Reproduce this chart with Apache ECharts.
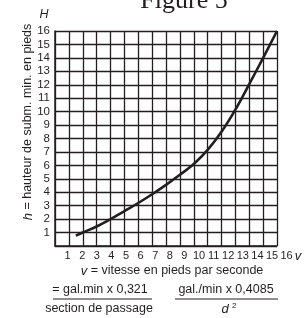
<!DOCTYPE html>
<html>
<head>
<meta charset="utf-8">
<script src="https://cdn.jsdelivr.net/npm/echarts@6/dist/echarts.min.js"></script>
<style>
html,body{margin:0;padding:0;background:#fff;}
#c{width:304px;height:318px;}
</style>
</head>
<body>
<div id="c"></div>
<script>
// Data
var velocity = [1.5, 2, 3, 4, 5, 6, 7, 8, 9, 10, 11, 12, 13, 14, 15, 16];
var height   = [0.77, 1.0, 1.45, 2.0, 2.6, 3.2, 3.85, 4.55, 5.3, 6.1, 7.15, 8.5, 10.15, 12.05, 14.0, 16.0];
var xTickLabels = ['1','2','3','4','5','6','7','8','9','10','11','12','13','14','15','16'];
var yTickLabels = ['1','2','3','4','5','6','7','8','9','10','11','12','13','14','15','16'];

var FONT = 'Liberation Sans';
var INK = '#231f20';

var chart = echarts.init(document.getElementById('c'), null, {renderer: 'canvas'});

var points = velocity.map(function (v, i) { return [v, height[i]]; });

var option = {
  animation: false,
  backgroundColor: '#fff',
  grid: [
    {left: 55, top: 31, width: 222, height: 215, show: false},
    // label-only grid (tick labels in the print drift wider than the grid)
    {left: 53, top: 31, width: 233.6, height: 215, show: false}
  ],
  xAxis: [
    {
      type: 'value', gridIndex: 0, min: 0, max: 16, interval: 1,
      axisLine: {show: true, lineStyle: {color: INK, width: 1.5}},
      axisTick: {show: false},
      axisLabel: {show: false},
      splitLine: {show: true, lineStyle: {color: INK, width: 1.3}}
    },
    {
      type: 'value', gridIndex: 1, min: 0, max: 16, interval: 1,
      axisLine: {show: false}, axisTick: {show: false},
      splitLine: {show: false},
      axisLabel: {
        show: true, color: INK, fontFamily: FONT, fontSize: 11, margin: 4,
        formatter: function (val) {
          var i = Math.round(val) - 1;
          return i >= 0 && i < xTickLabels.length ? xTickLabels[i] : '';
        }
      }
    }
  ],
  yAxis: [
    {
      type: 'value', gridIndex: 0, min: 0, max: 16, interval: 1,
      axisLine: {show: true, lineStyle: {color: INK, width: 1.5}},
      axisTick: {show: false},
      axisLabel: {
        show: true, color: INK, fontFamily: FONT, fontSize: 11.5, margin: 5,
        formatter: function (val) {
          var i = Math.round(val) - 1;
          return i >= 0 && i < yTickLabels.length ? yTickLabels[i] : '';
        }
      },
      splitLine: {show: true, lineStyle: {color: INK, width: 1.3}}
    },
    {
      type: 'value', gridIndex: 1, min: 0, max: 16, show: false
    }
  ],
  series: [
    {
      type: 'line', xAxisIndex: 0, yAxisIndex: 0,
      data: points, smooth: 0.35, showSymbol: false,
      lineStyle: {color: INK, width: 2.6}
    }
  ],
  graphic: [
    {type: 'text', x: 184, y: -12, style: {text: 'Figure 5', font: '26px "Liberation Serif"', fill: INK, textAlign: 'center', textVerticalAlign: 'top'}},
    {type: 'text', x: 44, y: 15, style: {text: 'H', font: 'italic 12.5px "Liberation Sans"', fill: INK, textAlign: 'center', textVerticalAlign: 'middle'}},
    {type: 'text', x: 28, y: 122, rotation: Math.PI / 2,
      style: {
        text: '{i|h} = hauteur de subm. min. en pieds',
        font: '12.5px "Liberation Sans"', fill: INK, textAlign: 'center', textVerticalAlign: 'middle',
        rich: {i: {fontStyle: 'italic', fontSize: 13, fontFamily: FONT, fill: INK}}
      }},
    {type: 'text', x: 298, y: 256, style: {text: 'v', font: 'italic 13px "Liberation Sans"', fill: INK, textAlign: 'center', textVerticalAlign: 'middle'}},
    {type: 'text', x: 172, y: 271,
      style: {
        text: '{i|v} = vitesse en pieds par seconde',
        font: '12.5px "Liberation Sans"', fill: INK, textAlign: 'center', textVerticalAlign: 'middle',
        rich: {i: {fontStyle: 'italic', fontSize: 13, fontFamily: FONT, fill: INK}}
      }},
    {type: 'text', x: 100, y: 290, style: {text: '= gal.min x 0,321', font: '12.5px "Liberation Sans"', fill: INK, textAlign: 'center', textVerticalAlign: 'middle'}},
    {type: 'line', shape: {x1: 53, y1: 299, x2: 152, y2: 299}, style: {stroke: INK, lineWidth: 1}},
    {type: 'text', x: 226, y: 290, style: {text: 'gal./min x 0,4085', font: '12.5px "Liberation Sans"', fill: INK, textAlign: 'center', textVerticalAlign: 'middle'}},
    {type: 'line', shape: {x1: 175, y1: 299, x2: 278, y2: 299}, style: {stroke: INK, lineWidth: 1}},
    {type: 'text', x: 99, y: 309, style: {text: 'section de passage', font: '12.5px "Liberation Sans"', fill: INK, textAlign: 'center', textVerticalAlign: 'middle'}},
    {type: 'text', x: 229, y: 309,
      style: {
        text: '{i|d} {s|2}',
        font: '12px "Liberation Sans"', fill: INK, textAlign: 'center', textVerticalAlign: 'middle',
        rich: {
          i: {fontStyle: 'italic', fontSize: 13, fontFamily: FONT, fill: INK},
          s: {fontSize: 8, fontFamily: FONT, fill: INK, verticalAlign: 'top', padding: [0, 0, 6, 0]}
        }
      }}
  ]
};
chart.setOption(option);
</script>
</body>
</html>
